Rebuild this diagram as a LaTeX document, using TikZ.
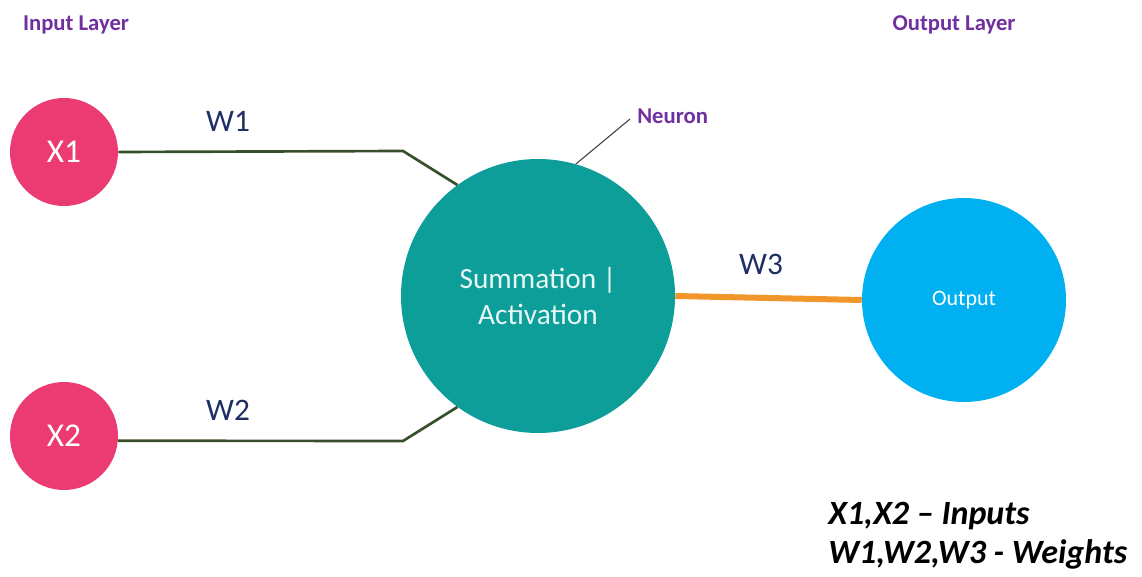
\documentclass[tikz,border=0pt]{standalone}
\usepackage{fontspec}
\setmainfont{Carlito}
\definecolor{inpink}{HTML}{EC3A73}
\definecolor{neuteal}{HTML}{0E9E9A}
\definecolor{outblue}{HTML}{00B0F0}
\definecolor{wgtorange}{HTML}{F0962A}
\definecolor{linegreen}{HTML}{38502A}
\definecolor{navy}{HTML}{1F2F66}
\definecolor{layerpurple}{HTML}{7030A0}
\definecolor{neutext}{HTML}{E6F7F5}
\tikzset{
  inputnode/.style={circle, fill=inpink, minimum size=81pt, inner sep=0pt, text=white, font=\fontsize{25}{29}\selectfont},
  weightlabel/.style={text=navy, font=\fontsize{23.5}{27}\selectfont, inner sep=0pt},
  layerlabel/.style={text=layerpurple, font=\bfseries\fontsize{17}{20}\selectfont, inner sep=0pt},
  greenwire/.style={draw=linegreen, line width=2pt},
  legendtext/.style={font=\bfseries\itshape\fontsize{25.5}{30}\selectfont, anchor=west, inner sep=0pt},
}
\begin{document}
\begin{tikzpicture}[x=0.75pt, y=-0.75pt]
\useasboundingbox (0,0) rectangle (1142,577);
\fill[white] (0,0) rectangle (1142,577);

\node[layerlabel] (inlayer) at (76,25) {Input Layer};
\node[layerlabel] (outlayer) at (954,25) {Output Layer};

\node[inputnode] (x1) at (64,152) {X1};
\node[inputnode] (x2) at (64,436) {X2};

\node[circle, fill=neuteal, minimum size=205.5pt, inner sep=0pt, text=neutext,
      align=center, font=\fontsize{22}{27}\selectfont] (neuron) at (538,296) {Summation |\\Activation};

\node[circle, fill=outblue, minimum size=153pt, inner sep=0pt, text=white,
      font=\fontsize{16.5}{20}\selectfont] (output) at (964,300) {Output};

\coordinate (b1) at (403,151);
\coordinate (b2) at (403,441);
\draw[greenwire] (x1.east) -- (b1) -- (neuron.126);
\draw[greenwire] (x2.-5) -- (b2) -- (neuron.234);
\draw[wgtorange, line width=4.5pt] (neuron.east) -- (output.west);

\node[weightlabel] (w1) at (228,121) {W1};
\node[weightlabel] (w2) at (228,410) {W2};
\node[weightlabel] (w3) at (761,264) {W3};

\coordinate (ptr) at (630,119);
\draw[black!75, line width=0.8pt] (neuron.74) -- (ptr);
\node[layerlabel, anchor=west] (neulabel) at (637,116) {Neuron};

\node[legendtext] (leg1) at (828,516) {X1,X2 -- Inputs};
\node[legendtext] (leg2) at (828,554) {W1,W2,W3 - Weights};
\end{tikzpicture}
\end{document}
